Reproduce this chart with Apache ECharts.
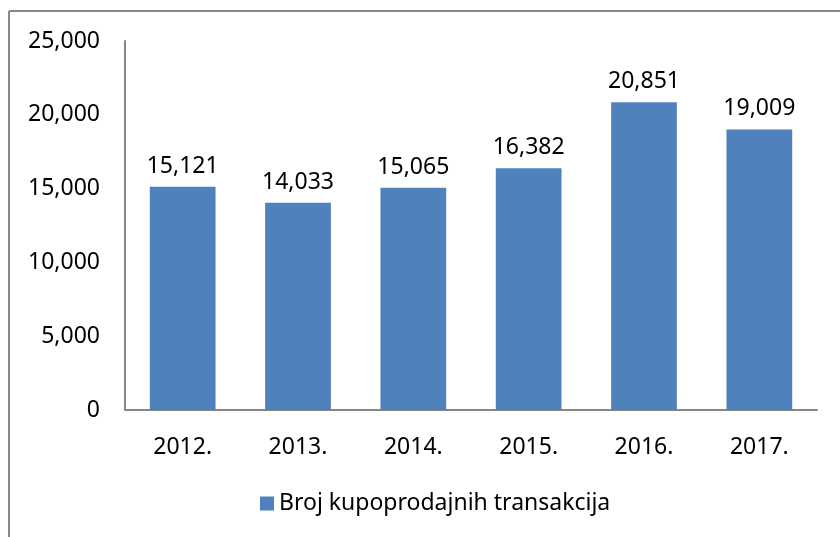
<!DOCTYPE html>
<html>
<head>
<meta charset="utf-8">
<script src="https://cdn.jsdelivr.net/npm/echarts@6/dist/echarts.min.js"></script>
<style>
  html, body { margin: 0; padding: 0; background: #fff; }
  #chart { width: 840px; height: 537px; }
</style>
</head>
<body>
<div id="chart"></div>
<script>
const years = ["2012.", "2013.", "2014.", "2015.", "2016.", "2017."];
const transactions = [15121, 14033, 15065, 16382, 20851, 19009];
const seriesName = "Broj kupoprodajnih transakcija";
const yTicks = [0, 5000, 10000, 15000, 20000, 25000];

const fmt = v => String(v).replace(/\B(?=(\d{3})+(?!\d))/g, ",");
const font = "Noto Sans";
const size = 23;

const myChart = echarts.init(document.getElementById("chart"));
myChart.setOption({
  animation: false,
  textStyle: { fontFamily: font },
  graphic: [
    { type: "line", shape: { x1: 9, y1: 11, x2: 840, y2: 11 }, style: { stroke: "#878787", lineWidth: 2 } },
    { type: "line", shape: { x1: 9, y1: 11, x2: 9, y2: 537 }, style: { stroke: "#878787", lineWidth: 2 } }
  ],
  grid: { left: 125, right: 23, top: 41, bottom: 127 },
  legend: {
    data: [seriesName],
    bottom: 17,
    left: 255,
    itemWidth: 14,
    itemHeight: 14,
    itemGap: 6,
    icon: "rect",
    textStyle: { fontFamily: font, fontSize: size, color: "#000" }
  },
  xAxis: {
    type: "category",
    data: years,
    axisLine: { lineStyle: { color: "#868686", width: 2 } },
    axisTick: { show: false },
    axisLabel: { color: "#000", fontSize: size, margin: 26, fontFamily: font }
  },
  yAxis: {
    type: "value",
    min: yTicks[0],
    max: yTicks[yTicks.length - 1],
    interval: 5000,
    splitLine: { show: false },
    axisLine: { show: true, lineStyle: { color: "#868686", width: 2 } },
    axisTick: { show: false },
    axisLabel: { color: "#000", fontSize: size, margin: 25, fontFamily: font, formatter: fmt }
  },
  series: [
    {
      name: seriesName,
      type: "bar",
      data: transactions,
      barCategoryGap: "43%",
      itemStyle: { color: "#4F81BD" },
      label: {
        show: true,
        position: "top",
        distance: 9,
        color: "#000",
        fontSize: size,
        fontFamily: font,
        formatter: p => fmt(p.value)
      }
    }
  ]
});
</script>
</body>
</html>
